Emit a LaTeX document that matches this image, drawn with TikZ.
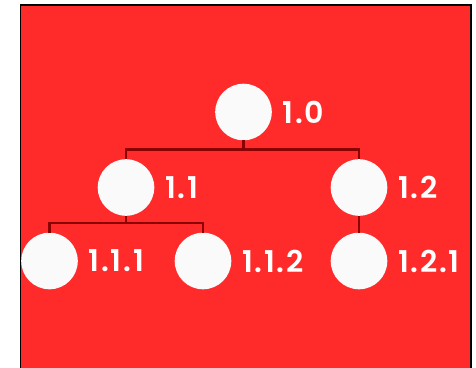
\documentclass[tikz,border=0pt]{standalone}
\usepackage{fontspec}
\setmainfont{Poppins}[BoldFont={Poppins SemiBold}]
\usetikzlibrary{positioning}

\definecolor{bgred}{RGB}{255,42,42}
\definecolor{linkred}{RGB}{139,0,0}
\definecolor{dotwhite}{RGB}{250,250,250}

\begin{document}
\begin{tikzpicture}[x=1pt, y=-1pt,
  vertex/.style = {
    circle,
    inner sep = 0,
    outer sep = 0,
    minimum size = 56.6pt,
    fill = dotwhite,
  },
  tag/.style = {
    text = white,
    inner sep = 0,
    font = \fontsize{30}{30}\selectfont\bfseries\addfontfeatures{LetterSpace=6},
  },
  link/.style = {
    draw = linkred,
    line width = 2.5pt,
  },
]
\useasboundingbox (0,0) rectangle (476,367);
\draw[fill=bgred, draw=black, line width=1.5pt] (20.5,5) rectangle (471,372);

\node[vertex] (n10)  at (243.5,112)  {};
\node[vertex] (n11)  at (126,187.5)  {};
\node[vertex] (n12)  at (359,187.5)  {};
\node[vertex] (n111) at (49.5,261)   {};
\node[vertex] (n112) at (203,261)    {};
\node[vertex] (n121) at (359,261)    {};

\node[tag, right=10.5pt of n10]  (t10)  {1.0};
\node[tag, right=10.5pt of n11]  (t11)  {1.1};
\node[tag, right=10.5pt of n12]  (t12)  {1.2};
\node[tag, right=10.5pt of n111] (t111) {1.1.1};
\node[tag, right=10.5pt of n112] (t112) {1.1.2};
\node[tag, right=10.5pt of n121] (t121) {1.2.1};

\draw[link] (n10.south) -- ++(0,9) -| (n11.north);
\draw[link] (n10.south) -- ++(0,9) -| (n12.north);
\draw[link] (n11.south) -- ++(0,7) -| (n111.north);
\draw[link] (n11.south) -- ++(0,7) -| (n112.north);
\draw[link] (n12.south) -- (n121.north);
\end{tikzpicture}
\end{document}
